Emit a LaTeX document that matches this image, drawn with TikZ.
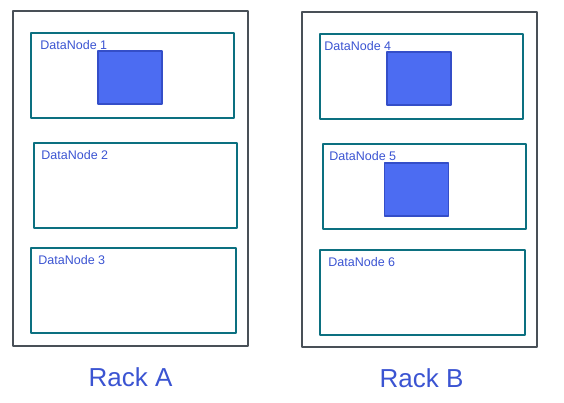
\documentclass[tikz,border=0pt]{standalone}
\usepackage{fontspec}
\setmainfont{Liberation Sans}
\usepackage{tikz}
\usetikzlibrary{positioning}
\definecolor{rackgray}{RGB}{73,80,87}
\definecolor{dnteal}{RGB}{12,112,128}
\definecolor{blockfill}{RGB}{76,108,242}
\definecolor{blockdraw}{RGB}{52,78,200}
\definecolor{txtblue}{RGB}{59,84,210}
\tikzset{
  rack/.style={draw=rackgray,line width=1.5pt,minimum width=235pt,minimum height=335pt,inner sep=0pt},
  datanode/.style={draw=dnteal,line width=1.5pt,minimum width=203pt,minimum height=85pt,inner sep=0pt},
  block/.style={draw=blockdraw,fill=blockfill,line width=1.2pt,minimum width=64pt,minimum height=53pt,inner sep=0pt},
  dnlabel/.style={text=txtblue,font=\fontsize{12.5}{14}\selectfont,inner sep=0pt,anchor=north west},
  racklabel/.style={text=txtblue,font=\fontsize{26}{30}\selectfont,inner sep=0pt}
}
\begin{document}
\begin{tikzpicture}[x=1pt,y=-1pt,line join=round]
\useasboundingbox (0,0) rectangle (564,403);
% Racks
\node[rack] (rackA) at (130.5,178.5) {};
\node[rack] (rackB) at (419.5,179.5) {};
\node[racklabel,below=21pt of rackA] (labA) {Rack A};
\node[racklabel,below=21pt of rackB,xshift=2pt] (labB) {Rack B};

% DataNodes in Rack A
\node[datanode] (dn1) at (132.5,75.5) {};
\node[datanode] (dn2) at (135.5,185.5) {};
\node[datanode,minimum width=205pt] (dn3) at (133.5,290.5) {};
\node[dnlabel] (dn1lab) at ([xshift=10pt,yshift=-7.5pt]dn1.north west) {DataNode 1};
\node[dnlabel] (dn2lab) at ([xshift=8pt,yshift=-7.5pt]dn2.north west) {DataNode 2};
\node[dnlabel] (dn3lab) at ([xshift=8pt,yshift=-7.5pt]dn3.north west) {DataNode 3};

% DataNodes in Rack B
\node[datanode] (dn4) at (421.5,76.5) {};
\node[datanode] (dn5) at (424.5,186.5) {};
\node[datanode,minimum width=205pt] (dn6) at (422.5,292.5) {};
\node[dnlabel] (dn4lab) at ([xshift=5pt,yshift=-7.5pt]dn4.north west) {DataNode 4};
\node[dnlabel] (dn5lab) at ([xshift=7pt,yshift=-7.5pt]dn5.north west) {DataNode 5};
\node[dnlabel] (dn6lab) at ([xshift=9pt,yshift=-7.5pt]dn6.north west) {DataNode 6};

% Blocks
\node[block] (blk1) at (130,77.5) {};
\node[block] (blk4) at (419,78.5) {};
\node[block] (blk5) at (416.5,189.5) {};
\end{tikzpicture}
\end{document}
